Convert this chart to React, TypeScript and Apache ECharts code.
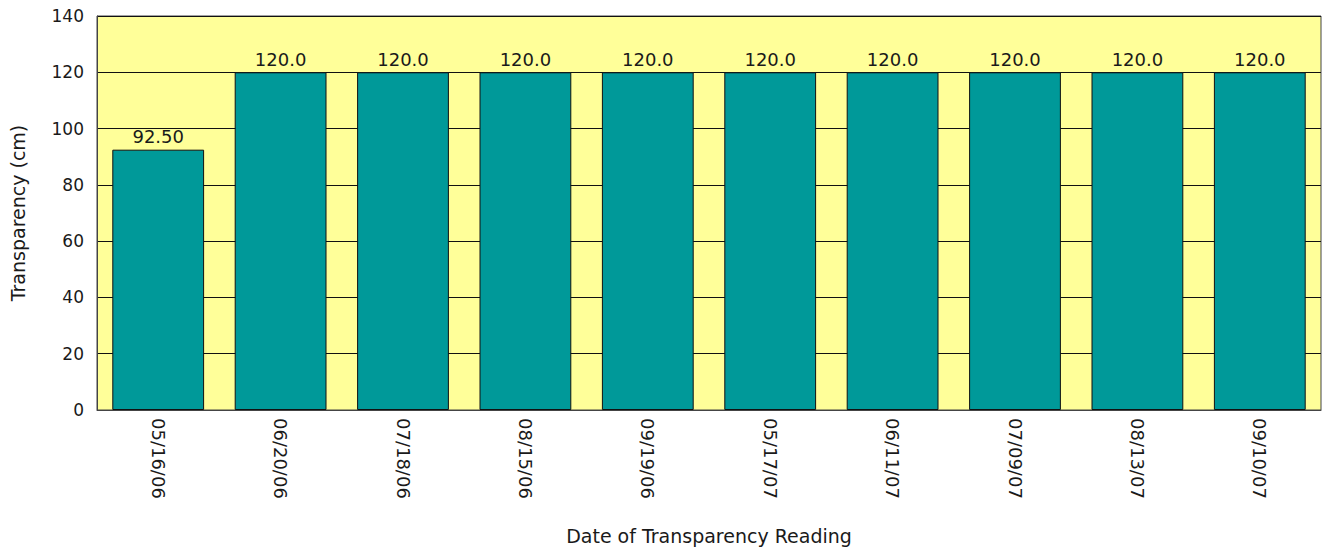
import React, { useEffect, useRef } from "react";
import * as echarts from "echarts";

const categories = ["05/16/06", "06/20/06", "07/18/06", "08/15/06", "09/19/06", "05/17/07", "06/11/07", "07/09/07", "08/13/07", "09/10/07"];
const transparency = [92.5, 120, 120, 120, 120, 120, 120, 120, 120, 120];
const yTitle = "Transparency (cm)";
const xTitle = "Date of Transparency Reading";

const FONT = "DejaVu Sans";
const TXT = "#1a1a1a";

export default function App() {
  const ref = useRef<HTMLDivElement>(null);
  useEffect(() => {
    const chart = echarts.init(ref.current!, undefined, { renderer: "svg" });
    chart.setOption({
      animation: false,
      backgroundColor: "#ffffff",
      grid: {
        left: 95,
        right: 4,
        top: 16,
        bottom: 136,
        show: true,
        backgroundColor: "#FFFF99",
        borderColor: "#444444",
        borderWidth: 1,
      },
      xAxis: {
        type: "category",
        data: categories,
        name: xTitle,
        nameLocation: "middle",
        nameGap: 116,
        nameTextStyle: { fontFamily: FONT, fontSize: 19, color: TXT },
        axisLine: { show: true, lineStyle: { color: "#444444" } },
        axisTick: { show: false },
        axisLabel: { rotate: -90, fontFamily: FONT, fontSize: 18, color: TXT, margin: 8 },
      },
      yAxis: {
        type: "value",
        min: 0,
        max: 140,
        interval: 20,
        name: yTitle,
        nameLocation: "middle",
        nameGap: 70,
        nameTextStyle: { fontFamily: FONT, fontSize: 19, color: TXT },
        axisLine: { show: true, lineStyle: { color: "#444444" } },
        axisTick: { show: false },
        axisLabel: { fontFamily: FONT, fontSize: 17, color: TXT, margin: 13 },
        splitLine: { show: true, lineStyle: { color: "#111111", width: 1 } },
      },
      series: [
        {
          type: "bar",
          data: transparency,
          barWidth: "75%",
          itemStyle: { color: "#009999", borderColor: "#111111", borderWidth: 1 },
          label: {
            show: true,
            position: "top",
            distance: 4,
            fontFamily: FONT,
            fontSize: 18,
            color: TXT,
            formatter: (p: any) => Number(p.value).toPrecision(4),
          },
        },
      ],
    });
    return () => chart.dispose();
  }, []);
  return <div ref={ref} style={{ width: 1325, height: 550, position: "absolute", left: 0, top: 0 }} />;
}
